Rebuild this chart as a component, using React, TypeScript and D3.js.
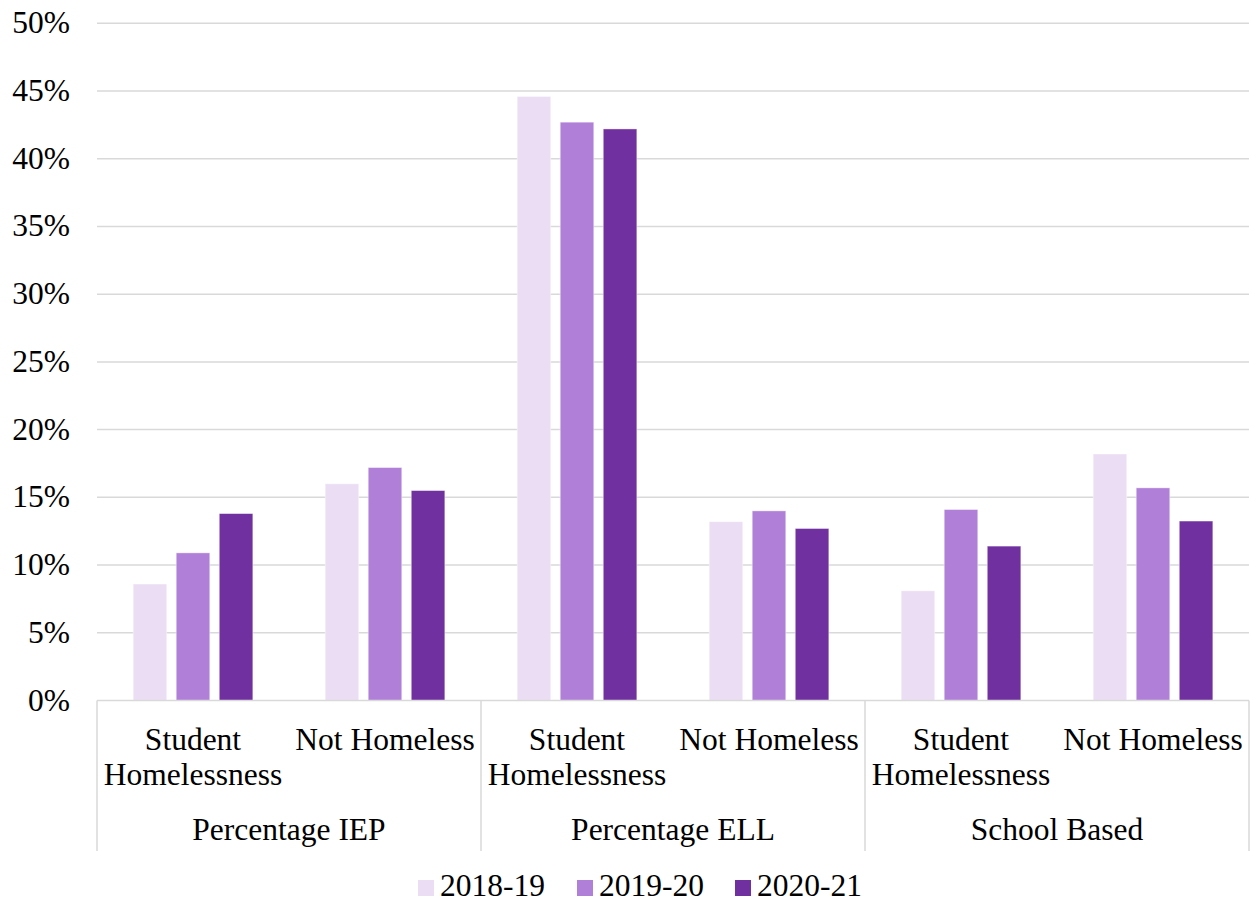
import React from 'react';
import * as d3 from 'd3';

const groups = ['Percentage IEP', 'Percentage ELL', 'School Based'];
const subCats = ['Student Homelessness', 'Not Homeless'];
const years = ['2018-19', '2019-20', '2020-21'];
const colors = ['#EBDEF4', '#B07FD8', '#7030A0'];
const yTicks = [0, 5, 10, 15, 20, 25, 30, 35, 40, 45, 50];

// values per year, in order: IEP SH, IEP NH, ELL SH, ELL NH, SB SH, SB NH
const v2018 = [8.6, 16.0, 44.6, 13.2, 8.1, 18.2];
const v2019 = [10.9, 17.2, 42.7, 14.0, 14.1, 15.7];
const v2020 = [13.8, 15.5, 42.2, 12.7, 11.4, 13.25];
const series = [v2018, v2019, v2020];

const W = 1253;
const H = 903;
const left = 97;
const right = 1249;
const top = 23.3;
const bottom = 700.5;
const font = '"Liberation Serif", "Times New Roman", serif';

const App = () => {
  const y = d3.scaleLinear().domain([0, 50]).range([bottom, top]);
  const gx = d3.scaleBand().domain(groups).range([left, right]).padding(0);
  const sx = d3.scaleBand().domain(subCats).range([0, gx.bandwidth()]).padding(0);
  const bx = d3.scaleBand().domain(years).range([0, sx.bandwidth()]).paddingInner(0.22).paddingOuter(0.84);

  const legendX = [418, 577, 735];

  return (
    <svg width={W} height={H} style={{ position: 'absolute', left: 0, top: 0, background: '#fff' }} fontFamily={font}>
      {yTicks.map(t => (
        <g key={t}>
          {t > 0 && <line x1={left} x2={right} y1={y(t)} y2={y(t)} stroke="#D9D9D9" strokeWidth={1.5} />}
          <text x={70} y={y(t) + 10} textAnchor="end" fontSize={31.5} fill="#000">{t}%</text>
        </g>
      ))}
      {groups.map((g, gi) => (
        <g key={g}>
          {subCats.map((s, si) => {
            const x0 = (gx(g) as number) + (sx(s) as number);
            return (
              <g key={s}>
                {years.map((yr, yi) => {
                  const val = series[yi][gi * 2 + si];
                  return (
                    <rect key={yr} x={x0 + (bx(yr) as number)} y={y(val)} width={bx.bandwidth()}
                      height={bottom - y(val)} fill={colors[yi]} stroke="#ffffff" strokeOpacity={0.5} strokeWidth={0.8} />
                  );
                })}
                {s === 'Student Homelessness' ? (
                  <text x={x0 + sx.bandwidth() / 2} textAnchor="middle" fontSize={31.5}>
                    <tspan x={x0 + sx.bandwidth() / 2} y={750}>Student</tspan>
                    <tspan x={x0 + sx.bandwidth() / 2} y={785}>Homelessness</tspan>
                  </text>
                ) : (
                  <text x={x0 + sx.bandwidth() / 2} y={750} textAnchor="middle" fontSize={31.5}>{s}</text>
                )}
              </g>
            );
          })}
          <text x={(gx(g) as number) + gx.bandwidth() / 2} y={840} textAnchor="middle" fontSize={31.5}>{g}</text>
        </g>
      ))}
      <line x1={left} x2={right} y1={bottom} y2={bottom} stroke="#D9D9D9" strokeWidth={1.5} />
      {[...groups.map(g => gx(g) as number), right].map((x, i) => (
        <line key={i} x1={x} x2={x} y1={bottom} y2={851} stroke="#D9D9D9" strokeWidth={1.5} />
      ))}
      {years.map((yr, i) => (
        <g key={yr}>
          <rect x={legendX[i]} y={880} width={16} height={16} fill={colors[i]} />
          <text x={legendX[i] + 22} y={896} fontSize={31.5}>{yr}</text>
        </g>
      ))}
    </svg>
  );
};

export default App;
